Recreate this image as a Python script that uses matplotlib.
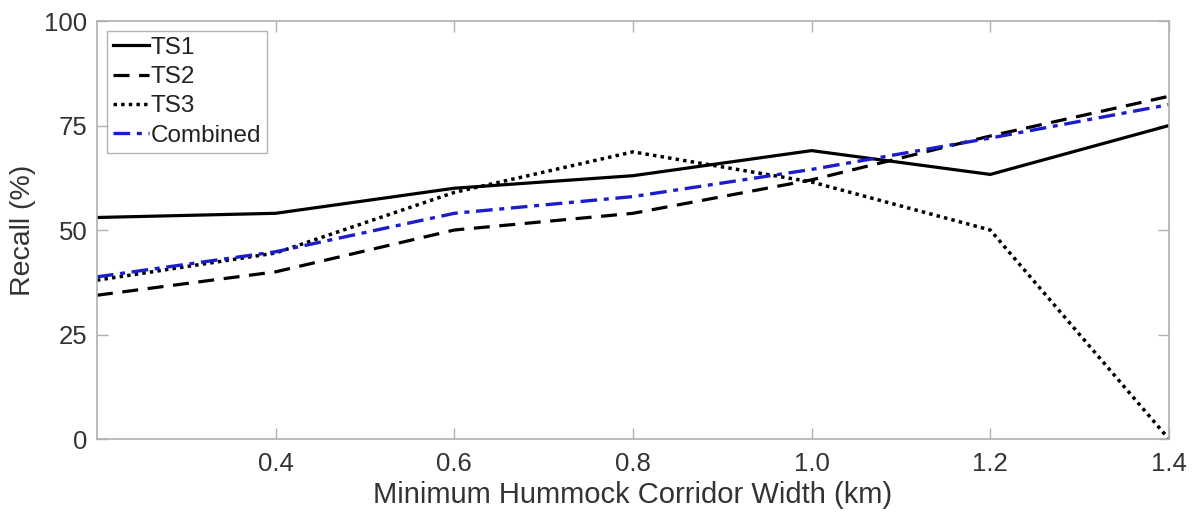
import numpy as np
import matplotlib
matplotlib.use('Agg')
import matplotlib.pyplot as plt

plt.rcParams['font.family'] = ['Liberation Sans', 'DejaVu Sans']

width = [0.2, 0.4, 0.6, 0.8, 1.0, 1.2, 1.4]
ts1 = [53, 54, 60, 63, 69, 63.3, 75]
ts2 = [34.4, 40, 50, 54, 62, 72.5, 82]
ts3 = [38, 44.5, 59, 68.7, 61.5, 50, 0]
combined = [38.8, 44.8, 54, 58, 64.5, 72, 80]

xticks = [0.4, 0.6, 0.8, 1.0, 1.2, 1.4]
xticklabels = ['0.4', '0.6', '0.8', '1.0', '1.2', '1.4']
yticks = [0, 25, 50, 75, 100]

fig = plt.figure(figsize=(11.94, 5.13), dpi=100)
ax = fig.add_axes([0.0812, 0.1442, 0.8978, 0.8148])

ax.plot(width, ts1, color='black', linestyle='-', linewidth=2.3, label='TS1')
ax.plot(width, ts2, color='black', linestyle=(0, (5, 3)), linewidth=2.3, label='TS2')
ax.plot(width, ts3, color='black', linestyle=(0, (1, 1.2)), linewidth=2.5, label='TS3')
ax.plot(width, combined, color='#1c1ccc', linestyle=(0, (5, 2, 1.5, 2)), linewidth=2.4, label='Combined')

ax.set_xlim(0.2, 1.4)
ax.set_ylim(0, 100)
ax.set_xticks(xticks)
ax.set_xticklabels(xticklabels)
ax.set_yticks(yticks)

for s in ax.spines.values():
    s.set_color('#b0b0b0')
    s.set_linewidth(1.2)
ax.tick_params(direction='in', length=8, width=1.0, color='#b0b0b0',
               top=True, right=True, labelsize=18.5, labelcolor='#333333', pad=9)
ax.tick_params(axis='y', pad=7)

ax.set_xlabel('Minimum Hummock Corridor Width (km)', fontsize=21, color='#333333', labelpad=4)
ax.set_ylabel('Recall (%)', fontsize=20.5, color='#333333', labelpad=6)

leg = ax.legend(loc='upper left', fontsize=17.5, frameon=True, fancybox=False,
                handlelength=1.5, handletextpad=0.05, borderpad=0.25,
                labelspacing=0.3, borderaxespad=0.4)
leg.get_frame().set_edgecolor('#a0a0a0')
leg.get_frame().set_linewidth(1.0)
for t in leg.get_texts():
    t.set_color('#222222')

fig.savefig('out.png', dpi=100)
